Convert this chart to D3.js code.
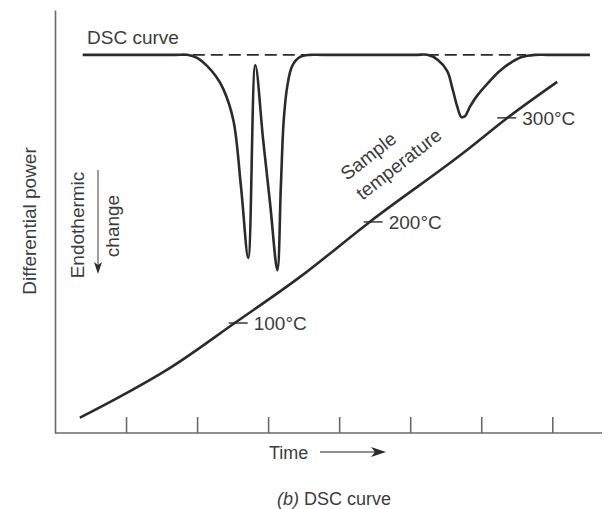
<!DOCTYPE html>
<html>
<head>
<meta charset="utf-8">
<script src="https://cdn.jsdelivr.net/npm/d3@7"></script>
<style>
  body { margin: 0; background: #fff; }
  svg { display: block; font-family: "Liberation Sans", Arial, sans-serif; }
</style>
</head>
<body>
<div id="chart"></div>
<script>
// time in heating-interval units, power / temperature in arbitrary units (0-100)
const timeTicks = [1, 2, 3, 4, 5, 6, 7];

const dscTime = [0.39, 1.69, 1.86, 2.0, 2.14, 2.27, 2.37, 2.51, 2.62, 2.72, 2.82, 2.93, 3.03, 3.13,
  3.18, 3.22, 3.27, 3.34, 3.45, 3.59, 3.76, 5.07, 5.24, 5.39, 5.52, 5.6, 5.66, 5.72, 5.77, 5.84,
  5.94, 6.12, 6.26, 6.43, 6.57, 6.76, 6.93, 7.53];
const dscPower = [89.4, 89.4, 89.4, 88.7, 86.8, 84.2, 81.3, 74.0, 57.9, 41.4, 87.0, 69.3, 53.9, 38.5,
  58.6, 74.0, 82.0, 86.8, 88.9, 89.4, 89.4, 89.4, 89.4, 88.2, 85.6, 81.1, 77.3, 74.7, 74.9, 77.1,
  79.7, 83.2, 85.6, 87.7, 88.9, 89.4, 89.4, 89.4];

const baselineRange = [1.94, 6.63];
const baselinePower = 89.4;

const tempTime = [0.35, 0.96, 1.62, 2.53, 3.45, 4.43, 5.8, 6.33, 7.07];
const tempValue = [3.6, 9.0, 15.4, 26.0, 36.9, 49.9, 66.9, 74.0, 83.0];

const markLabels = ["100°C", "200°C", "300°C"];
const markTime = [2.53, 4.43, 6.31];
const markValue = [26.0, 49.9, 74.5];

const width = 609;
const height = 509;

const x = d3.scaleLinear().domain([0, 7.7]).range([55, 602]);
const y = d3.scaleLinear().domain([0, 100]).range([433, 10]);

const ink = "#2b2b2b";
const axisColour = "#6a6a6a";
const textColour = "#3c3c3c";

const svg = d3
  .select("#chart")
  .append("svg")
  .attr("width", width)
  .attr("height", height);

// Axes: plain lines, ticks pointing inward, no numbers
const xAxis = d3.axisBottom(x).tickValues(timeTicks).tickSize(-16).tickFormat("");
const gx = svg.append("g").attr("transform", `translate(0,${y(0)})`).call(xAxis);
gx.select(".domain").attr("d", `M${x(0)},0H${x(7.7)}`);
gx.selectAll("path, line").attr("stroke", axisColour).attr("stroke-width", 1.6);

const yAxis = d3.axisLeft(y).tickValues([]).tickSizeOuter(0);
const gy = svg.append("g").attr("transform", `translate(${x(0)},0)`).call(yAxis);
gy.select(".domain").attr("stroke", axisColour).attr("stroke-width", 1.6);

// Dashed baseline under the endotherms
svg
  .append("line")
  .attr("x1", x(baselineRange[0]))
  .attr("x2", x(baselineRange[1]))
  .attr("y1", y(baselinePower))
  .attr("y2", y(baselinePower))
  .attr("stroke", ink)
  .attr("stroke-width", 1.8)
  .attr("stroke-dasharray", "12,6");

const dscLine = d3
  .line()
  .x((d) => x(d[0]))
  .y((d) => y(d[1]))
  .curve(d3.curveCatmullRom.alpha(0.5));

const tempLine = d3
  .line()
  .x((d) => x(d[0]))
  .y((d) => y(d[1]))
  .curve(d3.curveMonotoneX);

svg
  .append("path")
  .attr("d", dscLine(d3.zip(dscTime, dscPower)))
  .attr("fill", "none")
  .attr("stroke", ink)
  .attr("stroke-width", 2.6)
  .attr("stroke-linejoin", "round");

svg
  .append("path")
  .attr("d", tempLine(d3.zip(tempTime, tempValue)))
  .attr("fill", "none")
  .attr("stroke", ink)
  .attr("stroke-width", 2.6);

// Temperature marks on the sample line
const marks = svg
  .selectAll("g.mark")
  .data(d3.range(markLabels.length))
  .enter()
  .append("g")
  .attr("class", "mark")
  .attr("transform", (i) => `translate(${x(markTime[i])},${y(markValue[i])})`);

marks
  .append("line")
  .attr("x1", -6)
  .attr("x2", 13)
  .attr("stroke", ink)
  .attr("stroke-width", 1.4);

marks
  .append("text")
  .attr("x", 19)
  .attr("y", 7)
  .attr("fill", textColour)
  .attr("font-size", 19)
  .text((i) => markLabels[i]);

// Labels
svg
  .append("text")
  .attr("x", 87)
  .attr("y", 44)
  .attr("fill", textColour)
  .attr("font-size", 19)
  .text("DSC curve");

svg
  .append("text")
  .attr("transform", "translate(36,221) rotate(-90)")
  .attr("text-anchor", "middle")
  .attr("fill", textColour)
  .attr("font-size", 19)
  .text("Differential power");

svg
  .append("text")
  .attr("transform", "translate(84,225) rotate(-90)")
  .attr("text-anchor", "middle")
  .attr("fill", textColour)
  .attr("font-size", 19)
  .text("Endothermic");

svg
  .append("text")
  .attr("transform", "translate(119,226) rotate(-90)")
  .attr("text-anchor", "middle")
  .attr("fill", textColour)
  .attr("font-size", 19)
  .text("change");

// Endothermic arrow (pointing down)
svg
  .append("line")
  .attr("x1", 98)
  .attr("x2", 98)
  .attr("y1", 170)
  .attr("y2", 268)
  .attr("stroke", axisColour)
  .attr("stroke-width", 1.3);
svg
  .append("path")
  .attr("d", "M94,262L98,274L102,262L98,265Z")
  .attr("fill", ink);

const sample = svg
  .append("text")
  .attr("transform", "translate(347,181) rotate(-38)")
  .attr("fill", textColour)
  .attr("font-size", 19);
sample.append("tspan").attr("x", 0).attr("dy", 0).text("Sample");
sample.append("tspan").attr("x", 0).attr("dy", 25).text("temperature");

// Time label and arrow
svg
  .append("text")
  .attr("x", 269)
  .attr("y", 459)
  .attr("fill", textColour)
  .attr("font-size", 18)
  .text("Time");
svg
  .append("line")
  .attr("x1", 320)
  .attr("x2", 380)
  .attr("y1", 452)
  .attr("y2", 452)
  .attr("stroke", axisColour)
  .attr("stroke-width", 1.3);
svg
  .append("path")
  .attr("d", "M371,447L386,452L371,457L375,452Z")
  .attr("fill", ink);

const caption = svg
  .append("text")
  .attr("x", 277)
  .attr("y", 505)
  .attr("fill", textColour)
  .attr("font-size", 18);
caption.append("tspan").attr("font-style", "italic").text("(b)");
caption.append("tspan").text(" DSC curve");
</script>
</body>
</html>
